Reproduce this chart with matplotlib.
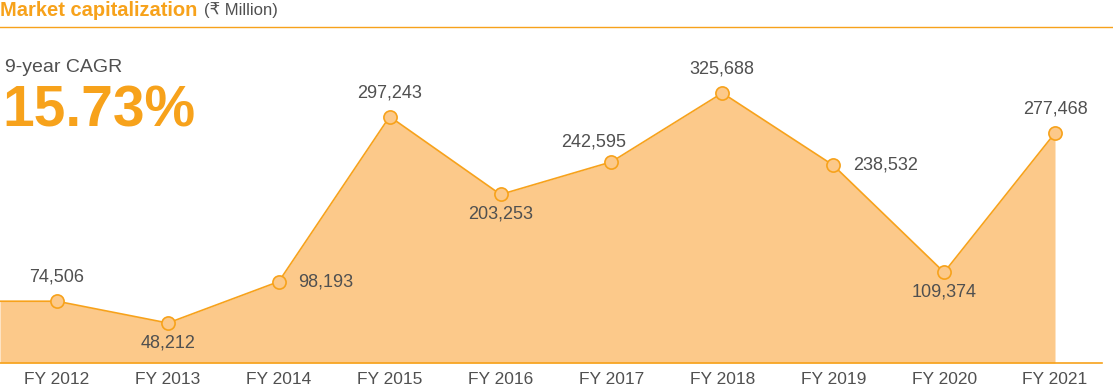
import matplotlib.pyplot as plt
from matplotlib.lines import Line2D

plt.rcParams["font.family"] = ["Liberation Sans", "DejaVu Sans"]

# データ
years = ["FY 2012", "FY 2013", "FY 2014", "FY 2015", "FY 2016",
         "FY 2017", "FY 2018", "FY 2019", "FY 2020", "FY 2021"]
market_cap = [74506, 48212, 98193, 297243, 203253,
              242595, 325688, 238532, 109374, 277468]
label_pos = ["above", "below", "right", "above", "below",
             "upleft", "above", "right", "below", "above"]

ORANGE = "#F7A21B"
FILL = "#FCC98A"
GRAY = "#505050"

fig = plt.figure(figsize=(11.13, 3.87), dpi=100)
ax = fig.add_axes([0, 0, 1, 1])
ax.set_xlim(-0.514, 9.523)
ax.set_ylim(-28950, 437800)
ax.axis("off")

xs = list(range(len(years)))
# 左端まで面を延ばす
fx = [-0.514] + xs
fy = [market_cap[0]] + market_cap
ax.fill_between(fx, fy, 0, color=FILL, lw=0, zorder=1)
ax.plot(fx, fy, color=ORANGE, lw=1.2, zorder=2)
ax.plot(xs, market_cap, "o", ms=9.5, mfc=FILL, mec=ORANGE, mew=1.2, zorder=3)

# 基線
ax.plot([-0.514, 9.42], [0, 0], color=ORANGE, lw=1.2, zorder=2)

LBL = 13
for x, v, p in zip(xs, market_cap, label_pos):
    txt = f"{v:,}"
    if p == "above":
        ax.annotate(txt, (x, v), xytext=(0, 11), textcoords="offset points",
                    ha="center", va="bottom", fontsize=LBL, color=GRAY)
    elif p == "below":
        ax.annotate(txt, (x, v), xytext=(0, -8), textcoords="offset points",
                    ha="center", va="top", fontsize=LBL, color=GRAY)
    elif p == "right":
        ax.annotate(txt, (x, v), xytext=(14, 0), textcoords="offset points",
                    ha="left", va="center", fontsize=LBL, color=GRAY)
    else:
        ax.annotate(txt, (x, v), xytext=(-13, 14), textcoords="offset points",
                    ha="center", va="center", fontsize=LBL, color=GRAY)

for x, y in zip(xs, years):
    ax.text(x, -20000, y, ha="center", va="center", fontsize=12.5, color=GRAY)

# タイトル
t = fig.text(0.0, 1 - 10 / 387, "Market capitalization", ha="left", va="center",
             fontsize=14.5, fontweight="bold", color=ORANGE)
fig.canvas.draw()
bb = t.get_window_extent()
fig.text(bb.x1 / fig.bbox.width + 0.006, 1 - 10 / 387, "(₹ Million)", ha="left",
         va="center", fontsize=12, color=GRAY)
fig.add_artist(Line2D([0, 1], [1 - 27 / 387, 1 - 27 / 387], color=ORANGE, lw=1,
                      transform=fig.transFigure))

fig.text(5 / 1113, 1 - 67 / 387, "9-year CAGR", ha="left", va="center",
         fontsize=14, color=GRAY)
fig.text(2 / 1113, 1 - 112 / 387, "15.73%", ha="left", va="center",
         fontsize=41, fontweight="bold", color=ORANGE)

fig.savefig("out.png", dpi=100)
